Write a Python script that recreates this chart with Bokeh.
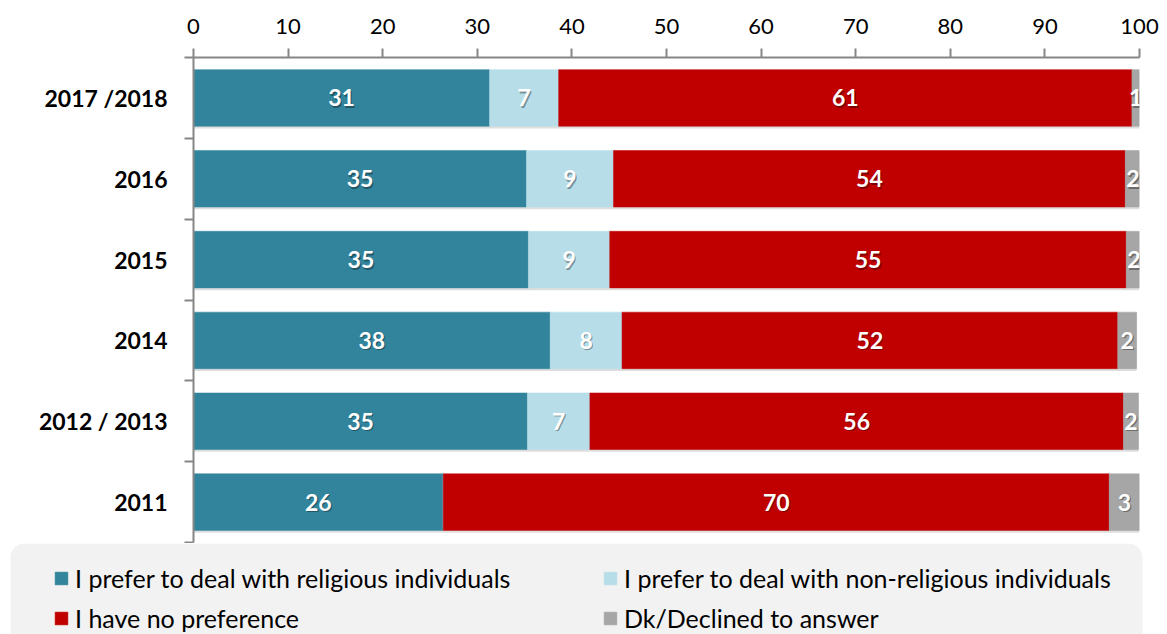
from bokeh.plotting import figure
from bokeh.layouts import column
from bokeh.models import (Range1d, FixedTicker, ColumnDataSource, Legend, LegendItem,
                          BoxAnnotation)
from bokeh.core.properties import value
from bokeh.embed import file_html
from bokeh.resources import INLINE

# ---------------- data ----------------
periods = ["2017 /2018", "2016", "2015", "2014", "2012 / 2013", "2011"]
series_names = [
    "I prefer to deal with religious individuals",
    "I prefer to deal with non-religious individuals",
    "I have no preference",
    "Dk/Declined to answer",
]
religious = [31.3, 35.2, 35.4, 37.7, 35.3, 26.4]
non_religious = [7.3, 9.2, 8.6, 7.6, 6.6, 0.0]
no_preference = [60.6, 54.1, 54.6, 52.4, 56.4, 70.4]
declined = [0.8, 1.6, 1.6, 2.0, 1.6, 3.2]
x_ticks = [0, 10, 20, 30, 40, 50, 60, 70, 80, 90, 100]

colors = ["#31849B", "#B7DEE8", "#C00000", "#A6A6A6"]
FONT = "Lato"
AXIS_GRAY = "#868686"

series = [religious, non_religious, no_preference, declined]
n = len(periods)
ypos = [n - 1 - i for i in range(n)]  # first period on top

p = figure(width=1167, height=543, output_backend="svg", toolbar_location=None,
           x_range=Range1d(0, 100), y_range=Range1d(-0.5, n - 0.5),
           x_axis_location="above",
           min_border_left=193, min_border_right=28,
           min_border_top=57, min_border_bottom=1)
p.outline_line_color = None
p.grid.visible = False
p.background_fill_color = "white"
p.border_fill_color = "white"

# soft shadow under each bar
totals = [sum(s[i] for s in series) for i in range(n)]
p.hbar(y=[y - 0.028 for y in ypos], left=0, right=totals, height=0.7,
       fill_color="black", fill_alpha=0.13, line_color=None)

# stacked bars
lefts = [0.0] * n
label_x, label_y, label_t = [], [], []
for s, c in zip(series, colors):
    rights = [l + v for l, v in zip(lefts, s)]
    src = ColumnDataSource(dict(y=ypos, left=lefts, right=rights))
    p.hbar(y="y", left="left", right="right", height=0.7, source=src,
           fill_color=c, line_color=c, line_width=0.5)
    for i, v in enumerate(s):
        if v > 0:
            label_x.append(lefts[i] + v / 2)
            label_y.append(ypos[i])
            label_t.append(f"{v:.0f}")
    lefts = rights

lab_src = ColumnDataSource(dict(x=label_x, y=label_y, t=label_t))
p.text(x="x", y="y", text="t", source=lab_src, x_offset=1.2, y_offset=1.5,
       text_font=value(FONT), text_font_style="bold", text_font_size="23px",
       text_align="center", text_baseline="middle", text_color="black", text_alpha=0.35)
p.text(x="x", y="y", text="t", source=lab_src,
       text_font=value(FONT), text_font_style="bold", text_font_size="23px",
       text_align="center", text_baseline="middle", text_color="white")

# top x axis
xa = p.xaxis[0]
xa.ticker = FixedTicker(ticks=x_ticks)
xa.axis_line_color = AXIS_GRAY
xa.axis_line_width = 2
xa.major_tick_line_color = AXIS_GRAY
xa.major_tick_line_width = 2
xa.major_tick_out = 9
xa.major_tick_in = 0
xa.minor_tick_line_color = None
xa.major_label_text_font = FONT
xa.major_label_text_font_size = "22px"
xa.major_label_text_color = "black"
xa.major_label_standoff = 15

# left category axis
ya = p.yaxis[0]
ya.ticker = FixedTicker(ticks=ypos, minor_ticks=[k - 0.5 for k in range(n + 1)])
ya.major_label_overrides = {ypos[i]: periods[i] for i in range(n)}
ya.axis_line_color = AXIS_GRAY
ya.axis_line_width = 2
ya.major_tick_line_color = None
ya.major_tick_out = 0
ya.major_tick_in = 0
ya.minor_tick_line_color = AXIS_GRAY
ya.minor_tick_line_width = 2
ya.minor_tick_out = 9
ya.minor_tick_in = 0
ya.major_label_text_font = FONT
ya.major_label_text_font_style = "bold"
ya.major_label_text_font_size = "23px"
ya.major_label_text_color = "black"
ya.major_label_standoff = 17

# ---------------- legend strip ----------------
lg = figure(width=1167, height=91, output_backend="svg", toolbar_location=None,
            x_range=Range1d(0, 1), y_range=Range1d(0, 1),
            x_axis_location=None, y_axis_location=None,
            min_border=0, min_border_left=0, min_border_right=0,
            min_border_top=0, min_border_bottom=0)
lg.outline_line_color = None
lg.grid.visible = False
lg.background_fill_color = "white"
lg.border_fill_color = "white"
for fig in (p, lg):
    try:
        fig.frame_align = False
    except Exception:
        pass

box = BoxAnnotation(left=10, right=1142, top=0, bottom=200,
                    left_units="canvas", right_units="canvas",
                    top_units="canvas", bottom_units="canvas",
                    fill_color="#F2F2F2", fill_alpha=1.0, line_color=None)
try:
    box.border_radius = 14
except Exception:
    pass
lg.add_layout(box)

# legend proxies (one point outside the visible range, same styling as the bars)
proxies = []
for c in colors:
    proxies.append(lg.hbar(y=[50], left=[50], right=[51], height=0.7,
                           fill_color=c, line_color=c, line_width=0.5))

common = dict(label_text_font=FONT, label_text_font_size="25px", label_text_color="black",
              glyph_width=16, glyph_height=16, label_height=30, label_standoff=6,
              spacing=10, padding=0, margin=0, background_fill_alpha=0,
              border_line_color=None, orientation="vertical")
leg1 = Legend(items=[LegendItem(label=series_names[0], renderers=[proxies[0]]),
                     LegendItem(label=series_names[2], renderers=[proxies[2]])],
              location=(53, 1), **common)
leg2 = Legend(items=[LegendItem(label=series_names[1], renderers=[proxies[1]]),
                     LegendItem(label=series_names[3], renderers=[proxies[3]])],
              location=(602, 1), **common)
lg.add_layout(leg1)
lg.add_layout(leg2)

layout = column(p, lg, spacing=0)
open("out.html", "w").write(file_html(layout, INLINE))
